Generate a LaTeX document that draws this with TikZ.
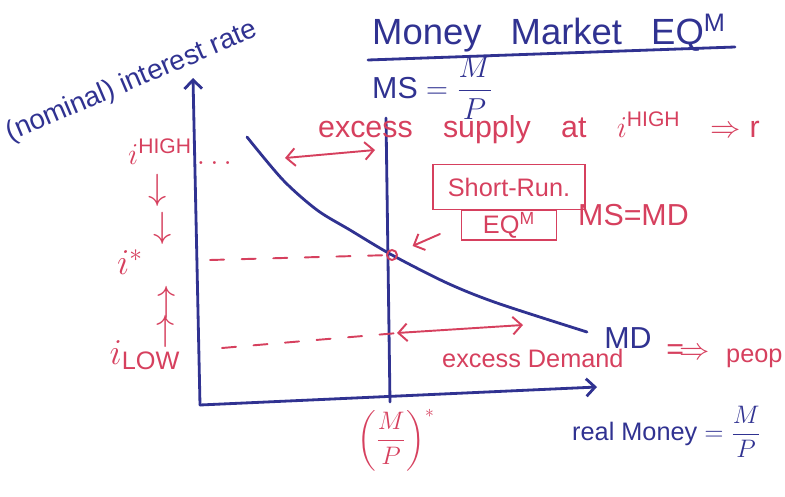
\documentclass[tikz,border=0pt]{standalone}
\usepackage{amsmath}
\usepackage{fontspec}
\setmainfont{Liberation Sans}
\usetikzlibrary{arrows.meta}
\definecolor{pen}{RGB}{48,50,145}
\definecolor{ink}{RGB}{214,64,94}

\begin{document}
\begin{tikzpicture}[x=0.02cm, y=-0.02cm, line cap=round,
  blue line/.style={draw=pen, line width=1.6pt},
  red line/.style={draw=ink, line width=1.1pt},
  blue text/.style={text=pen},
  red text/.style={text=ink},
  tip/.style={-{Straight Barb[length=5pt,width=10pt]}},
  both tips/.style={{Straight Barb[length=5pt,width=10pt]}-{Straight Barb[length=5pt,width=10pt]}},
  guide/.style={red line, dash pattern=on 8pt off 10pt},
  box/.style={red line, red text, draw, font=\Large, inner sep=1pt}]
\useasboundingbox (0,0) rectangle (785,497);
\clip (0,0) rectangle (785,497);

\coordinate (origin) at (200,405);
\coordinate (ytop) at (193,78);
\coordinate (xend) at (597,387);
\draw [blue line, tip] (origin) -- (ytop);
\draw [blue line, tip] (origin) -- (xend);

\coordinate (mstop) at (386,118);
\coordinate (msbot) at (390,402);
\draw [blue line] (mstop) -- (msbot);

\coordinate (eq) at (392,255);
\draw [blue line] plot [smooth] coordinates {(247,137) (283,180) (317,210) (350,230) (eq) (447,283) (497,303) (587,332)};
\draw [red line] (eq) circle (5);

\node [blue text, font=\huge, anchor=west] (title) at (366,33) {Money\hspace{0.8em}Market\hspace{0.8em}EQ\textsuperscript{M}};
\draw [blue line] (368,60) -- (735,47);
\node [blue text, font=\LARGE, anchor=west] (ms) at (366,88) {MS $=\dfrac{M}{P}$};

\node [blue text, font=\fontsize{15.8}{18}\selectfont, rotate=23] (ylabel) at (132,82) {(nominal) interest rate};
\node [blue text, font=\Large, anchor=west] (xlabel) at (566,432) {real Money $=\dfrac{M}{P}$};
\node [blue text, font=\LARGE] (mdlabel) at (628,338) {MD};

\node [red text, font=\LARGE, anchor=west] (ihigh) at (122,152) {$i^{\mathrm{HIGH}}\ldots$};
\node [red text, font=\huge] (down1) at (158,190) {$\downarrow$};
\node [red text, font=\huge] (down2) at (163,228) {$\downarrow$};
\node [red text, font=\huge] (istar) at (130,262) {$i^{*}$};
\node [red text, font=\huge] (up1) at (167,302) {$\uparrow$};
\node [red text, font=\huge] (up2) at (166,331) {$\uparrow$};
\node [red text, font=\huge] (ilow) at (145,355) {$i_{\mathrm{LOW}}$};

\draw [guide] (210,260) -- (eq);
\draw [guide] (222,348) -- (398,333);

\coordinate (sup1) at (285,158);
\coordinate (sup2) at (375,150);
\draw [red line, both tips] (sup1) -- (sup2);
\node [red text, font=\LARGE, anchor=west] (supply) at (312,128) {excess\quad supply\quad at\quad $i^{\mathrm{HIGH}}$\quad $\Rightarrow$ r};

\node [box, minimum width=3.04cm, minimum height=0.9cm] (srun) at (509,187) {Short-Run.};
\node [box, minimum width=1.9cm, minimum height=0.6cm] (eqbox) at (509,225) {EQ\textsuperscript{M}};
\node [red text, font=\LARGE, anchor=west] (msmd) at (572,215) {MS=MD};
\draw [red line, tip, shorten <=0.45cm, shorten >=0.45cm] (eqbox.west) -- (eq);

\coordinate (dem1) at (397,333);
\coordinate (dem2) at (523,325);
\draw [red line, both tips] (dem1) -- (dem2);
\node [red text, font=\Large, anchor=west] (demand) at (436,358) {excess Demand};
\node [red text, font=\LARGE] (impl) at (688,352) {$\Longrightarrow$};
\node [red text, font=\Large, anchor=west] (people) at (720,358) {peop};

\node [red text, font=\Large] (mstar) at (396,440) {$\left(\dfrac{M}{P}\right)^{*}$};
\end{tikzpicture}
\end{document}
